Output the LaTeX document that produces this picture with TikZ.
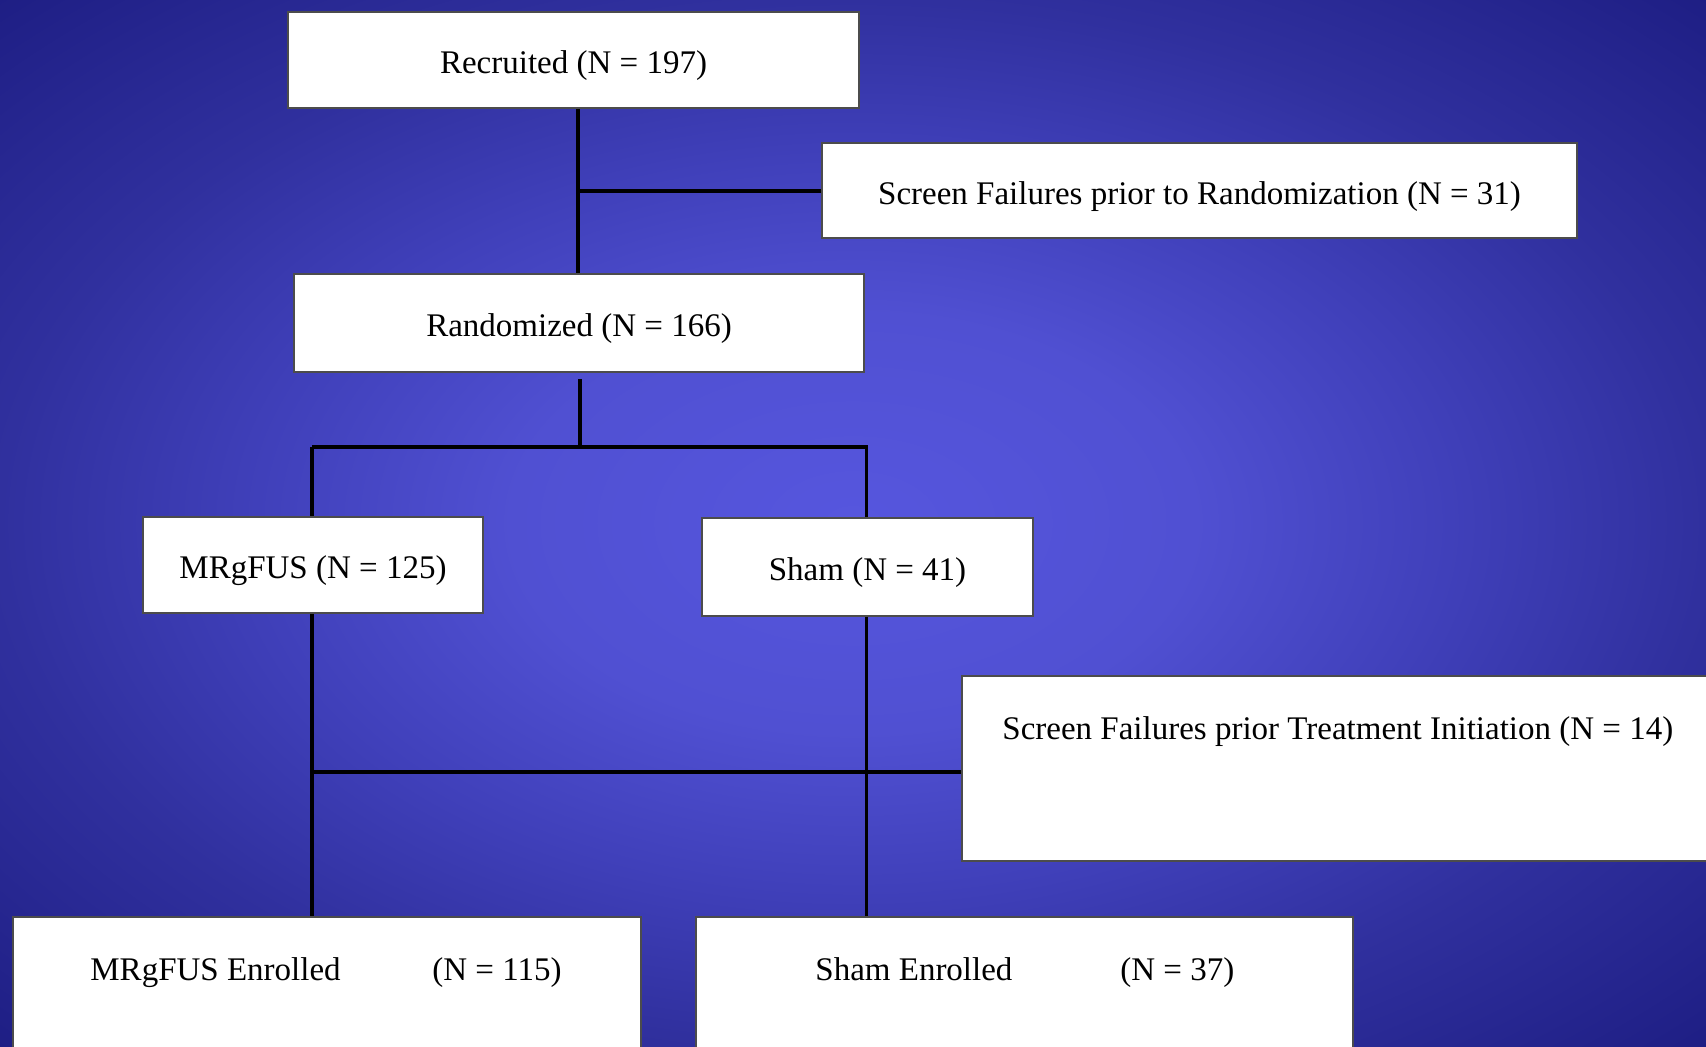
\documentclass[tikz,border=0pt]{standalone}
\usepackage{fontspec}
\setmainfont{Liberation Serif}
\definecolor{bgA}{RGB}{86,86,222}
\definecolor{bgB}{RGB}{80,80,210}
\definecolor{bgC}{RGB}{64,64,186}
\definecolor{bgD}{RGB}{48,48,158}
\definecolor{bgE}{RGB}{30,30,132}
\pgfdeclareradialshading{bgshade}{\pgfpoint{0bp}{0bp}}{color(0bp)=(bgA); color(10bp)=(bgB); color(17.5bp)=(bgC); color(25bp)=(bgD); color(35.5bp)=(bgE); color(50bp)=(bgE)}
\begin{document}
\begin{tikzpicture}[x=0.5pt,y=-0.5pt,
  box/.style={draw=black!70, line width=0.9pt, fill=white, inner sep=0pt},
  lbl/.style={label={[inner sep=0pt, font=\fontsize{16.5pt}{19pt}\selectfont, yshift=-3pt]center:#1}},
  txt/.style={inner sep=0pt, font=\fontsize{16.5pt}{19pt}\selectfont, anchor=base west},
  conn/.style={line width=1.6pt, black}]
\useasboundingbox (0,0) rectangle (1706,1046);
\shade[shading=bgshade] (0,0) rectangle (1706,1046);
% boxes
\node[box, minimum width=285.5pt, minimum height=48pt, lbl={Recruited (N = 197)}] (rec) at (573.5,60) {};
\node[box, minimum width=377.5pt, minimum height=47.5pt, lbl={Screen Failures prior to Randomization (N = 31)}] (sf1) at (1199.5,190.5) {};
\node[box, minimum width=285pt, minimum height=49pt, lbl={Randomized (N = 166)}] (ran) at (579,323) {};
\node[box, minimum width=170pt, minimum height=48pt, lbl={MRgFUS (N = 125)}] (mrg) at (313,565) {};
\node[box, minimum width=165.5pt, minimum height=49pt, lbl={Sham (N = 41)}] (sham) at (867.5,567) {};
\node[box, minimum width=377pt, minimum height=92.5pt] (sf2) at (1339,768.5) {};
\node[txt] (sf2t) at (1002,739.5) {Screen Failures prior Treatment Initiation (N = 14)};
\node[box, minimum width=314pt, minimum height=71pt] (mrge) at (327,988) {};
\node[txt] (mrget1) at (90,980) {MRgFUS Enrolled};
\node[txt] (mrget2) at (432,980) {(N = 115)};
\node[box, minimum width=328.5pt, minimum height=71pt] (shame) at (1024.5,988) {};
\node[txt] (shamet1) at (815,980) {Sham Enrolled};
\node[txt] (shamet2) at (1120,980) {(N = 37)};
% connectors
\coordinate (c1) at (578,191);
\coordinate (c2) at (580,447);
\coordinate (c3) at (312,772);
\draw[conn] (rec.south -| c1) -- (ran.north -| c1);
\draw[conn] (c1) -- (c1 -| sf1.west);
\draw[conn] ([yshift=-3pt]ran.south -| c2) -- (c2);
\draw[conn] (c2 -| mrg.north) ++(-1,0) -- (c2 -| sham.north);
\draw[conn] ([xshift=-0.5pt]c2 -| mrg.north) -- ([xshift=-0.5pt]mrg.north);
\draw[conn] ([xshift=-0.5pt]c2 -| sham.north) -- ([xshift=-0.5pt]sham.north);
\draw[conn] ([xshift=-0.5pt]mrg.south) -- ([xshift=-0.5pt]mrg.south |- mrge.north);
\draw[conn] ([xshift=-0.5pt]sham.south) -- ([xshift=-0.5pt]sham.south |- shame.north);
\draw[conn] (c3) -- (c3 -| sf2.west);
\end{tikzpicture}
\end{document}
